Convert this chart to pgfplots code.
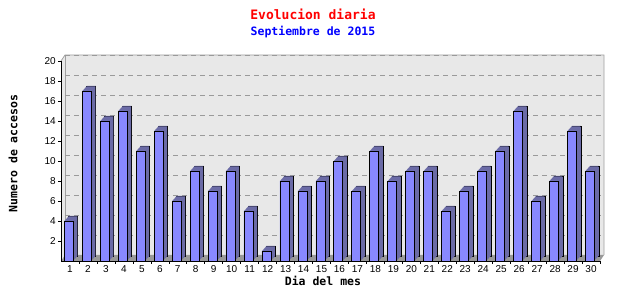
\documentclass[border=0pt]{standalone}
\usepackage{fontspec}
\usepackage{pgfplots}
\pgfplotsset{compat=1.18}
\usepackage{pgfplotstable}
\newfontfamily\monob{DejaVu Sans Mono}
\newfontfamily\tickf{Liberation Sans}
\definecolor{barfront}{HTML}{8888FF}
\definecolor{barside}{HTML}{6B6BA6}
\definecolor{wall}{HTML}{E8E8E8}
\definecolor{floorc}{HTML}{999999}
\definecolor{wallline}{HTML}{A0A0A0}
\definecolor{gridc}{HTML}{9A9A9A}
\pgfplotstableread{
day v
1 4
2 17
3 14
4 15
5 11
6 13
7 6
8 9
9 7
10 9
11 5
12 1
13 8
14 7
15 8
16 10
17 7
18 11
19 8
20 9
21 9
22 5
23 7
24 9
25 11
26 15
27 6
28 8
29 13
30 9
}\data
\begin{document}
\begin{tikzpicture}
\path (0pt,0pt) rectangle (640pt,300pt);
\begin{axis}[
  set layers,
  at={(61pt,39pt)}, anchor=south west,
  scale only axis, width=539pt, height=200pt,
  xmin=0.5, xmax=30.5, ymin=0, ymax=20,
  axis lines=left, axis line style={-, black, line width=0.8pt},
  clip=false,
  tick align=outside, major tick length=3pt,
  tick style={black, line width=0.6pt},
  xtick={1.5,2.5,...,30.5},
  xticklabels={1,2,3,4,5,6,7,8,9,10,11,12,13,14,15,16,17,18,19,20,21,22,23,24,25,26,27,28,29,30},
  xticklabel style={xshift=-9pt, inner sep=1.5pt},
  ytick={2,4,...,20},
  yticklabel style={inner sep=2pt},
  ticklabel style={font=\tickf\fontsize{10}{12}\selectfont},
  /pgf/number format/assume math mode=true,
  ymajorgrids,
  major grid style={gridc, line width=0.8pt, dash pattern=on 5pt off 4pt, xshift=4pt, yshift=6pt},
]
\begin{pgfonlayer}{axis background}
\fill[wall] (rel axis cs:0,0) -- ([shift={(4pt,6pt)}]rel axis cs:0,0) -- ([shift={(4pt,6pt)}]rel axis cs:1,0)
     -- ([shift={(4pt,6pt)}]rel axis cs:1,1) -- ([shift={(4pt,6pt)}]rel axis cs:0,1) -- (rel axis cs:0,1) -- cycle;
\fill[floorc] (rel axis cs:0,0) -- (rel axis cs:1,0) -- ([shift={(4pt,6pt)}]rel axis cs:1,0) -- ([shift={(4pt,6pt)}]rel axis cs:0,0) -- cycle;
\draw[wallline, line width=0.8pt] (rel axis cs:0,1) -- ([shift={(4pt,6pt)}]rel axis cs:0,1) -- ([shift={(4pt,6pt)}]rel axis cs:1,1) -- ([shift={(4pt,6pt)}]rel axis cs:1,0);
\draw[wallline, line width=0.5pt] ([shift={(4pt,6pt)}]rel axis cs:0,1) -- ([shift={(4pt,6pt)}]rel axis cs:0,0);
\end{pgfonlayer}
\addplot[ybar, bar width=9pt, bar shift=-1.2pt, fill=barside, draw=black, line width=0.6pt, xshift=4.5pt, yshift=5pt] table[x=day,y=v]{\data};
\pgfplotsinvokeforeach{9,8,7,6,5,4,3,2,1}{
  \addplot[ybar, bar width=9pt, bar shift=-1.2pt, fill=barside, draw=none, xshift=#1*0.45pt, yshift=#1*0.5pt] table[x=day,y=v]{\data};
}
\addplot[ybar, bar width=9pt, bar shift=-1.2pt, fill=barfront, draw=black, line width=0.6pt] table[x=day,y=v]{\data};
\node[font=\monob\bfseries\fontsize{13}{15}\selectfont, text=red] at (axis description cs:0.4675,1.235) {Evolucion diaria};
\node[font=\monob\bfseries\fontsize{11.5}{13}\selectfont, text=blue] at (axis description cs:0.4675,1.145) {Septiembre de 2015};
\node[font=\monob\bfseries\fontsize{11.5}{13}\selectfont] at (axis description cs:0.486,-0.1) {Dia del mes};
\node[font=\monob\bfseries\fontsize{11.5}{13}\selectfont, rotate=90] at (axis description cs:-0.089,0.538) {Numero de accesos};
\end{axis}
\end{tikzpicture}
\end{document}
